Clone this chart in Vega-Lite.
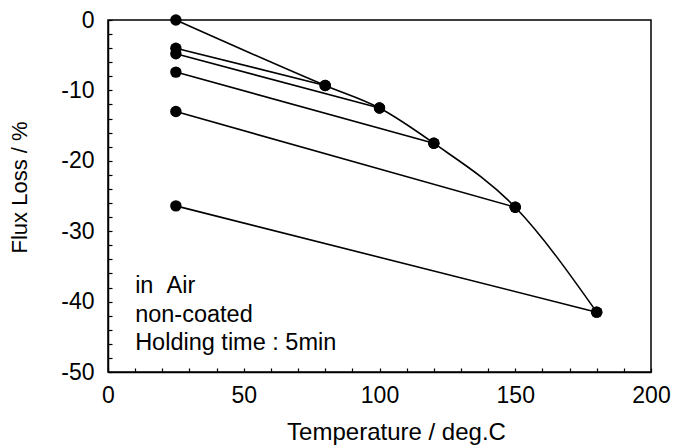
{
  "$schema": "https://vega.github.io/schema/vega-lite/v6.json",
  "width": 543,
  "height": 352,
  "autosize": {"type": "none"},
  "padding": {"left": 108, "top": 20, "right": 26, "bottom": 74},
  "config": {
    "font": "Liberation Sans",
    "view": {"stroke": "black", "strokeWidth": 1.5},
    "axis": {
      "grid": false,
      "domainColor": "black",
      "domainWidth": 1.5,
      "tickColor": "black",
      "tickWidth": 1.2,
      "tickSize": -4,
      "labelFont": "Liberation Sans",
      "labelFontSize": 23,
      "labelColor": "black",
      "titleFont": "Liberation Sans",
      "titleFontSize": 24,
      "titleFontWeight": "normal",
      "titleColor": "black",
      "labelOverlap": false,
      "labelBound": false,
      "labelFlush": false
    }
  },
  "datasets": {
    "pts": [
      {"series": "curve", "temp": 25, "loss": 0},
      {"series": "curve", "temp": 80, "loss": -9.3},
      {"series": "curve", "temp": 100, "loss": -12.5},
      {"series": "curve", "temp": 120, "loss": -17.5},
      {"series": "curve", "temp": 150, "loss": -26.6},
      {"series": "curve", "temp": 180, "loss": -41.5},
      {"series": "s80", "temp": 25, "loss": -4.0},
      {"series": "s80", "temp": 80, "loss": -9.3},
      {"series": "s100", "temp": 25, "loss": -4.8},
      {"series": "s100", "temp": 100, "loss": -12.5},
      {"series": "s120", "temp": 25, "loss": -7.4},
      {"series": "s120", "temp": 120, "loss": -17.5},
      {"series": "s150", "temp": 25, "loss": -13.0},
      {"series": "s150", "temp": 150, "loss": -26.6},
      {"series": "s180", "temp": 25, "loss": -26.4},
      {"series": "s180", "temp": 180, "loss": -41.5}
    ],
    "notes": [
      {"temp": 10, "loss": -37.8, "label": "in\u00a0\u00a0Air"},
      {"temp": 10, "loss": -41.9, "label": "non-coated"},
      {"temp": 10, "loss": -45.9, "label": "Holding time : 5min"}
    ]
  },
  "encoding": {
    "x": {
      "field": "temp", "type": "quantitative",
      "scale": {"domain": [0, 200], "nice": false},
      "axis": {
        "title": "Temperature / deg.C",
        "values": [0,10,20,30,40,50,60,70,80,90,100,110,120,130,140,150,160,170,180,190,200],
        "labelExpr": "datum.value % 50 === 0 ? toString(datum.value) : ''",
        "labelOverlap": false,
        "labelPadding": 16,
        "titlePadding": 13,
        "titleX": 288
      }
    },
    "y": {
      "field": "loss", "type": "quantitative",
      "scale": {"domain": [-50, 0], "nice": false},
      "axis": {
        "title": "Flux Loss / %",
        "titleFontSize": 22,
        "values": [-50,-48,-46,-44,-42,-40,-38,-36,-34,-32,-30,-28,-26,-24,-22,-20,-18,-16,-14,-12,-10,-8,-6,-4,-2,0],
        "labelExpr": "datum.value % 10 === 0 ? toString(datum.value) : ''",
        "labelOverlap": false,
        "labelPadding": 18,
        "titlePadding": 29,
        "titleY": 167
      }
    }
  },
  "layer": [
    {
      "data": {"name": "pts"},
      "transform": [{"filter": "datum.series !== 'curve'"}],
      "mark": {"type": "line", "color": "black", "strokeWidth": 1.6},
      "encoding": {
        "detail": {"field": "series"}
      }
    },
    {
      "data": {"name": "pts"},
      "transform": [{"filter": "datum.series === 'curve'"}],
      "mark": {"type": "line", "color": "black", "strokeWidth": 1.6, "interpolate": "monotone"},
      "encoding": {}
    },
    {
      "data": {"name": "pts"},
      "mark": {"type": "point", "filled": true, "color": "black", "opacity": 1, "size": 130},
      "encoding": {}
    },
    {
      "data": {"name": "notes"},
      "mark": {"type": "text", "align": "left", "baseline": "middle", "fontSize": 23.5, "font": "Liberation Sans", "color": "black"},
      "encoding": {
        "text": {"field": "label"}
      }
    }
  ]
}
